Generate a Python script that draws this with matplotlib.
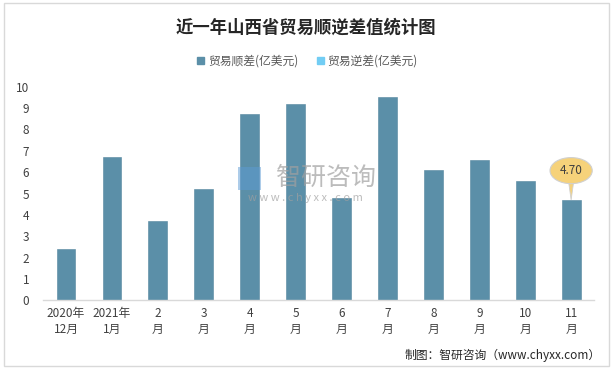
import matplotlib.pyplot as plt
from matplotlib.patches import Patch, Rectangle, Ellipse, Polygon

plt.rcParams['font.family'] = ['Noto Sans CJK SC', 'DejaVu Sans']

# 数据
months = ['2020年\n12月', '2021年\n1月', '2\n月', '3\n月', '4\n月', '5\n月',
          '6\n月', '7\n月', '8\n月', '9\n月', '10\n月', '11\n月']
surplus = [2.41, 6.71, 3.72, 5.22, 8.73, 9.20, 4.78, 9.53, 6.11, 6.58, 5.60, 4.70]
deficit = [0, 0, 0, 0, 0, 0, 0, 0, 0, 0, 0, 0]
series_names = ['贸易顺差(亿美元)', '贸易逆差(亿美元)']

col_surplus = '#5B8FA8'
col_deficit = '#72CDF4'

fig = plt.figure(figsize=(6.15, 3.70), dpi=100)
ax = fig.add_axes([0.070, 0.188, 0.896, 0.578])

# 外框
fig.patches.append(Rectangle((0.007, 0.011), 0.983, 0.981, transform=fig.transFigure,
                             fill=False, edgecolor='#D9D9D9', linewidth=1))

x = range(len(months))
ax.bar(x, surplus, width=0.41, color=col_surplus, edgecolor='#55869E',
       linewidth=0.4, zorder=2)

ax.set_xlim(-0.5, len(months) - 0.5)
ax.set_ylim(0, 10)
ax.set_yticks(range(0, 11))
ax.set_xticks(list(x))
ax.set_xticklabels(months, fontsize=8.5, color='#404040', linespacing=1.3)
ax.tick_params(axis='y', length=0, labelsize=8.5, labelcolor='#404040', pad=10)
ax.tick_params(axis='x', length=0, pad=5)
for s in ['top', 'right', 'left']:
    ax.spines[s].set_visible(False)
ax.spines['bottom'].set_color('#D9D9D9')
ax.spines['bottom'].set_linewidth(1)

# 标题
fig.text(0.497, 0.925, '近一年山西省贸易顺逆差值统计图', ha='center', va='center',
         fontsize=12.5, fontweight='bold', color='#262626')

# 图例
handles = [Patch(color=col_surplus), Patch(color=col_deficit)]
fig.legend(handles, series_names, loc='center', bbox_to_anchor=(0.5, 0.835), ncol=2,
           frameon=False, fontsize=8.5, handlelength=0.6, handleheight=0.6,
           handletextpad=0.3, columnspacing=1.6, labelcolor='#595959')

# 最后一个月标注（椭圆气泡）
last_i = len(surplus) - 1
last_v = surplus[-1]
cy = last_v + 1.37
ax.add_patch(Polygon([(last_i - 0.06, cy - 0.45), (last_i + 0.06, cy - 0.45),
                      (last_i, last_v)], closed=True, fc='#F6D27A',
                     ec='#D0D0D0', lw=0.6, zorder=4))
ax.add_patch(Ellipse((last_i, cy), 0.92, 1.22, fc='#F6D27A', ec='#D0D0D0',
                     lw=0.8, zorder=5))
ax.text(last_i, cy, f'{last_v:.2f}', ha='center', va='center', fontsize=8.5,
        color='#404040', zorder=6)

# 水印
fig.patches.append(Rectangle((0.387, 0.486), 0.038, 0.064, transform=fig.transFigure,
                             fc='#5C9BD5', alpha=0.5, ec='none', zorder=3))
fig.text(0.530, 0.518, '智研咨询', ha='center', va='center', fontsize=18,
         color='#A0A0A0', alpha=0.7, zorder=3)
fig.text(0.497, 0.466, 'w w w . c h y x x . c o m', ha='center', va='center',
         fontsize=8, color='#A0A0A0', alpha=0.7, zorder=3)

# 来源
fig.text(0.977, 0.040, '制图：智研咨询（www.chyxx.com）', ha='right', va='center',
         fontsize=8.5, color='#262626')

fig.savefig('out.png', dpi=100)
